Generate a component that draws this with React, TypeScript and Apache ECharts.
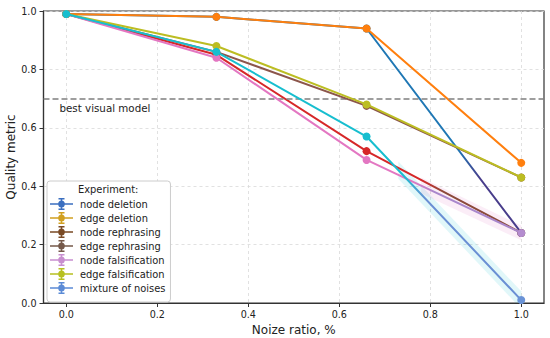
import React, { useEffect, useRef } from "react";
import * as echarts from "echarts";

const xValues = [0, 0.33, 0.66, 1.0];
const seriesNames = [
  "node deletion",
  "edge deletion",
  "node rephrasing",
  "edge rephrasing",
  "node falsification",
  "edge falsification",
  "mixture of noises",
];
const nodeDeletion = [0.99, 0.98, 0.94, 0.24];
const edgeDeletion = [0.99, 0.98, 0.94, 0.48];
const nodeRephrasing = [0.99, 0.85, 0.52, 0.24];
const edgeRephrasing = [0.99, 0.86, 0.675, 0.43];
const nodeFalsification = [0.99, 0.84, 0.49, 0.24];
const edgeFalsification = [0.99, 0.88, 0.68, 0.43];
const mixtureOfNoises = [0.99, 0.86, 0.57, 0.01];
const seriesValues = [
  nodeDeletion,
  edgeDeletion,
  nodeRephrasing,
  edgeRephrasing,
  nodeFalsification,
  edgeFalsification,
  mixtureOfNoises,
];
// confidence bands: [xStart, lowStart, highStart, xEnd, lowEnd, highEnd]
const mixtureBand = [0.73, 0.425, 0.485, 1.0, -0.02, 0.04];
const falsificationBand = [0.78, 0.375, 0.43, 1.0, 0.215, 0.265];
const xTicks = [0, 0.2, 0.4, 0.6, 0.8, 1.0];
const bestVisualModel = 0.697;
const bestVisualModelLabel = "best visual model";

// styles
const lineColors = ["#1f77b4", "#ff7f0e", "#d62728", "#8c564b", "#e377c2", "#bcbd22", "#17becf"];
const tailColors = ["#483d8b", "#ff7f0e", "#8b4a3a", "#8c564b", "#a987cc", "#bcbd22", "#6a8fd4"];
const tailStart = [0.86, 1, 0.78, 1, 0.76, 1, 0.74];
const endMarkerColors = ["#483d8b", "#ff7f0e", "#8b4a3a", "#8c564b", "#b48ccf", "#bcbd22", "#6a93d6"];
const legendColors = ["#3b6fc0", "#d1a020", "#7a4a25", "#75594a", "#c88fcf", "#b6c020", "#5b8bd6"];

const FONT = "DejaVu Sans";
const ICON =
  "path://M0 5.25H23V6.75H0Z M10.75 0.5H12.25V11.5H10.75Z M8.5 0.5H14.5V1.8H8.5Z M8.5 10.2H14.5V11.5H8.5Z M8.2 6A3.3 3.3 0 1 1 14.8 6A3.3 3.3 0 1 1 8.2 6Z";

function bandSeries(band: number[], fill: string) {
  return {
    type: "custom",
    silent: true,
    clip: true,
    z: 1,
    encode: { x: [0, 3], y: [1, 2, 4, 5] },
    data: [band],
    renderItem: (_params: any, api: any) => {
      const pts = [
        api.coord([api.value(0), api.value(1)]),
        api.coord([api.value(3), api.value(4)]),
        api.coord([api.value(3), api.value(5)]),
        api.coord([api.value(0), api.value(2)]),
      ];
      return { type: "polygon", shape: { points: pts }, style: { fill } };
    },
  };
}

export default function App() {
  const ref = useRef<HTMLDivElement>(null);
  useEffect(() => {
    const chart = echarts.init(ref.current!, null, { renderer: "svg" });
    const series: any[] = seriesValues.map((vals, i) => {
      const a = tailStart[i];
      const color =
        a >= 1
          ? lineColors[i]
          : new echarts.graphic.LinearGradient(0, 0, 1, 0, [
              { offset: 0, color: lineColors[i] },
              { offset: a, color: lineColors[i] },
              { offset: Math.min(1, a + 0.05), color: tailColors[i] },
              { offset: 1, color: tailColors[i] },
            ]);
      return {
        type: "line",
        name: seriesNames[i],
        data: xValues.map((x, j) =>
          j === xValues.length - 1
            ? { value: [x, vals[j]], itemStyle: { color: endMarkerColors[i] } }
            : [x, vals[j]]
        ),
        symbol: "circle",
        symbolSize: 8,
        showSymbol: true,
        lineStyle: { width: 2, color },
        itemStyle: { color: lineColors[i] },
        emphasis: { disabled: true },
        z: 2 + i,
        markLine:
          i === 0
            ? {
                silent: true,
                symbol: "none",
                lineStyle: { color: "#7f7f7f", type: [6, 3], width: 1.5 },
                label: {
                  show: true,
                  position: "insideStartBottom",
                  formatter: bestVisualModelLabel,
                  distance: [16, 4],
                  color: "#222",
                  fontSize: 10.3,
                  fontFamily: FONT,
                },
                data: [{ yAxis: bestVisualModel }],
              }
            : undefined,
      };
    });
    series.push(bandSeries(mixtureBand, "rgba(23,190,207,0.13)"));
    series.push(bandSeries(falsificationBand, "rgba(227,119,194,0.13)"));

    chart.setOption({
      animation: false,
      backgroundColor: "#ffffff",
      textStyle: { fontFamily: FONT },
      grid: {
        left: 43.5,
        right: 6,
        top: 11,
        bottom: 35,
        show: true,
        borderColor: "#333",
        borderWidth: 1.2,
        containLabel: false,
        outerBoundsMode: "none",
      },
      xAxis: {
        type: "value",
        min: -0.05,
        max: 1.05,
        name: "Noize ratio, %",
        nameLocation: "middle",
        nameGap: 18,
        nameTextStyle: { fontFamily: FONT, fontSize: 12, color: "#222" },
        axisLine: { show: true, onZero: false, lineStyle: { color: "#333", width: 1.2 } },
        axisTick: { show: true, length: 4, customValues: xTicks, lineStyle: { color: "#333" } },
        axisLabel: {
          customValues: xTicks,
          margin: 6,
          fontSize: 9.6,
          fontFamily: FONT,
          color: "#222",
          formatter: (v: number) => v.toFixed(1),
        },
        splitLine: { show: true, lineStyle: { color: "#d9d9d9", type: [3, 3], width: 0.8 } },
      },
      yAxis: {
        type: "value",
        min: 0,
        max: 1,
        interval: 0.2,
        name: "Quality metric",
        nameLocation: "middle",
        nameGap: 27,
        nameMoveOverlap: false,
        nameTextStyle: { fontFamily: FONT, fontSize: 12, color: "#222" },
        axisLine: { show: true, onZero: false, lineStyle: { color: "#333", width: 1.2 } },
        axisTick: { show: true, length: 4, lineStyle: { color: "#333" } },
        axisLabel: {
          margin: 7,
          fontSize: 9.6,
          fontFamily: FONT,
          color: "#222",
          formatter: (v: number) => v.toFixed(1),
        },
        splitLine: { show: true, lineStyle: { color: "#d9d9d9", type: [3, 3], width: 0.8 } },
      },
      legend: {
        orient: "vertical",
        left: 47,
        top: 181,
        backgroundColor: "#ffffff",
        borderColor: "#cccccc",
        borderWidth: 1,
        borderRadius: 3,
        padding: [17, 5, 8, 3],
        itemWidth: 23,
        itemHeight: 12,
        itemGap: 2,
        symbolKeepAspect: false,
        selectedMode: false,
        textStyle: { fontFamily: FONT, fontSize: 9.9, color: "#222", padding: [0, 0, 0, 2] },
        data: seriesNames.map((n, i) => ({
          name: n,
          icon: ICON,
          itemStyle: { color: legendColors[i] },
        })),
        z: 20,
      },
      graphic: [
        {
          type: "text",
          left: 78,
          top: 184,
          z: 100,
          style: { text: "Experiment:", fontSize: 9.9, fontFamily: FONT, fill: "#222" },
        },
      ],
      series,
    });
    return () => chart.dispose();
  }, []);
  return <div ref={ref} style={{ position: "fixed", left: 0, top: 0, width: 550, height: 338 }} />;
}
